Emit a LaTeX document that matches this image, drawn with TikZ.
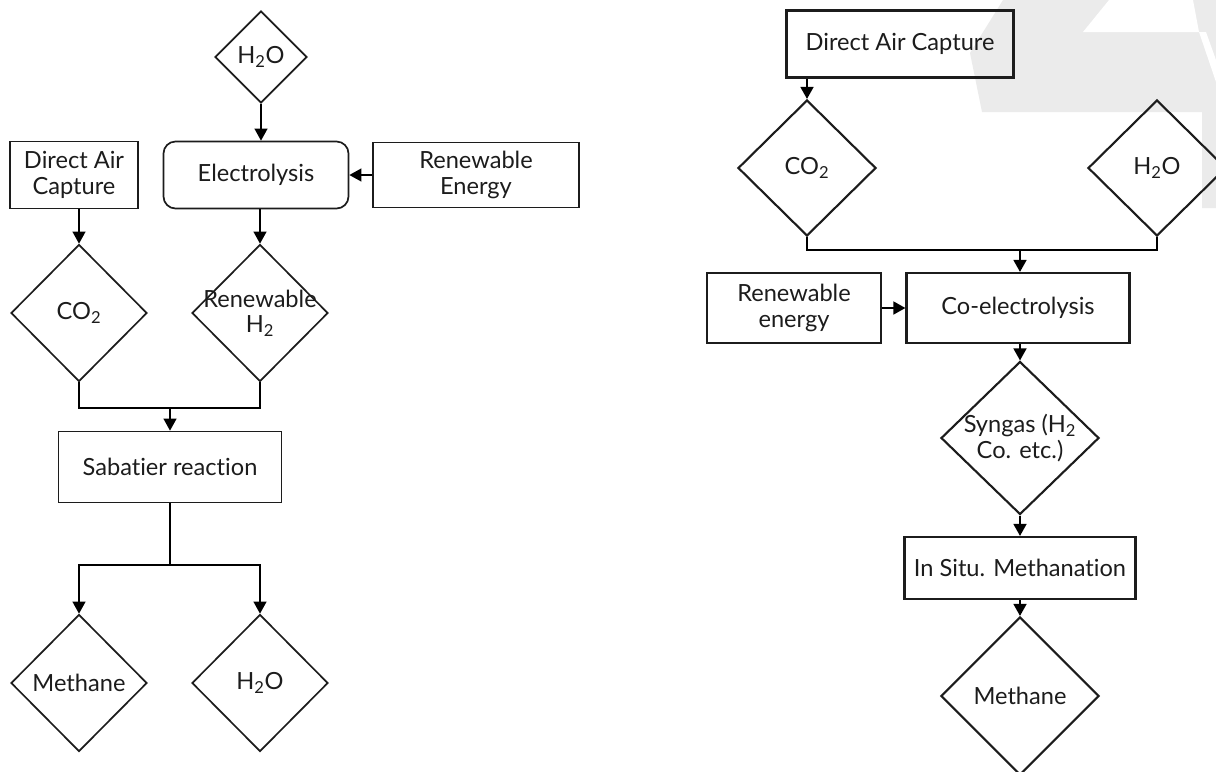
\documentclass[tikz,border=0pt]{standalone}
\usepackage{fontspec}
\setmainfont{Lato}[Ligatures=NoCommon]
\usetikzlibrary{shapes.geometric, arrows.meta, positioning}
\definecolor{MarkGray}{RGB}{235,235,235}
\definecolor{InkColor}{RGB}{28,28,28}
\def\px{0.025cm}
\tikzset{
  box/.style={draw=InkColor, rectangle, align=center, inner sep=0pt, text=InkColor},
  dia/.style={draw=InkColor, diamond, inner sep=0pt, minimum width=136*\px, minimum height=137*\px},
  lbl/.style={align=center, text=InkColor},
}
\begin{document}
\begin{tikzpicture}[x=\px, y=-\px, >={Triangle[length=0.3cm, width=0.32cm]},
    font=\fontsize{16.8}{18.2}\selectfont, line width=1.2pt]
  \useasboundingbox (0,0) rectangle (1216,771);
  % Watermark
  \fill[MarkGray] (1003,0) -- (970,53) -- (982,112) -- (1202,112) -- (1202,208) -- (1216,208) -- (1216,0) -- cycle;
  \fill[white] (1083,32) -- (1109,0) -- (1193,0) -- (1199,32) -- cycle;
  \fill[white] (1199,32) -- (1206,32) -- (1216,60) -- (1216,82) -- cycle;

  % Left: Sabatier route
  \node[dia, minimum width=92*\px, minimum height=92*\px, label={[lbl]center:H\textsubscript{2}O}] (h2oT) at (261,57) {};
  \node[box, rounded corners=0.3cm, minimum width=185*\px, minimum height=67*\px] (elec) at (256,175) {Electrolysis};
  \node[box, minimum width=206*\px, minimum height=65*\px] (renE) at (476,175) {Renewable\\Energy};
  \node[box, minimum width=128*\px, minimum height=67*\px] (dacL) at (74,175) {Direct Air\\Capture};
  \node[dia, label={[lbl]center:CO\textsubscript{2}}] (co2L) at (79,313) {};
  \node[dia, label={[lbl]center:Renewable\\H\textsubscript{2}}] (h2L) at (260,313) {};
  \node[box, minimum width=223*\px, minimum height=71*\px] (sab) at (170,467) {Sabatier reaction};
  \node[dia, label={[lbl]center:Methane}] (methL) at (79,683) {};
  \node[dia, label={[lbl]center:H\textsubscript{2}O}] (h2oB) at (260,683) {};
  \coordinate (mergeL) at (170,408);
  \coordinate (splitL) at (170,565);

  \draw[->] (h2oT.south) -- (h2oT.south |- elec.north);
  \draw[->] (renE) -- (elec);
  \draw[->] (co2L.north |- dacL.south) -- (co2L.north);
  \draw[->] (h2L.north |- elec.south) -- (h2L.north);
  \draw (co2L.south) |- (mergeL) -| (h2L.south);
  \draw[->] (mergeL) -- (sab.north);
  \draw (sab.south) -- (splitL);
  \draw[->] (splitL) -| (methL.north);
  \draw[->] (splitL) -| (h2oB.north);

  % Right: co-electrolysis route
  \begin{scope}[line width=1.5pt]
    \node[box, minimum width=227*\px, minimum height=67*\px] (dacR) at (900,44) {Direct Air Capture};
    \node[dia, minimum width=138*\px, minimum height=136*\px, label={[lbl]center:CO\textsubscript{2}}] (co2R) at (807,168) {};
    \node[dia, minimum width=138*\px, minimum height=136*\px, label={[lbl]center:H\textsubscript{2}O}] (h2oR) at (1157,168) {};
    \node[box, minimum width=223*\px, minimum height=70*\px] (coel) at (1018,308) {Co-electrolysis};
    \node[box, minimum width=174*\px, minimum height=70*\px] (renR) at (794,308) {Renewable\\energy};
    \node[dia, minimum width=158*\px, minimum height=153*\px, label={[lbl]center:Syngas (H\textsubscript{2}\\Co. etc.)}] (syn) at (1020,438) {};
    \node[box, minimum width=231*\px, minimum height=62*\px] (situ) at (1020,568) {In Situ. Methanation};
    \node[dia, minimum width=158*\px, minimum height=158*\px, label={[lbl]center:Methane}] (methR) at (1020,696) {};
    \coordinate (mergeR) at (1020,250);

    \draw[->] (co2R.north |- dacR.south) -- (co2R.north);
    \draw (co2R.south) |- (mergeR) -| (h2oR.south);
    \draw[->] (mergeR) -- (mergeR |- coel.north);
    \draw[->] (renR) -- (coel);
    \draw[->] (syn.north |- coel.south) -- (syn.north);
    \draw[->] (syn) -- (situ);
    \draw[->] (situ) -- (methR);
  \end{scope}
\end{tikzpicture}
\end{document}
